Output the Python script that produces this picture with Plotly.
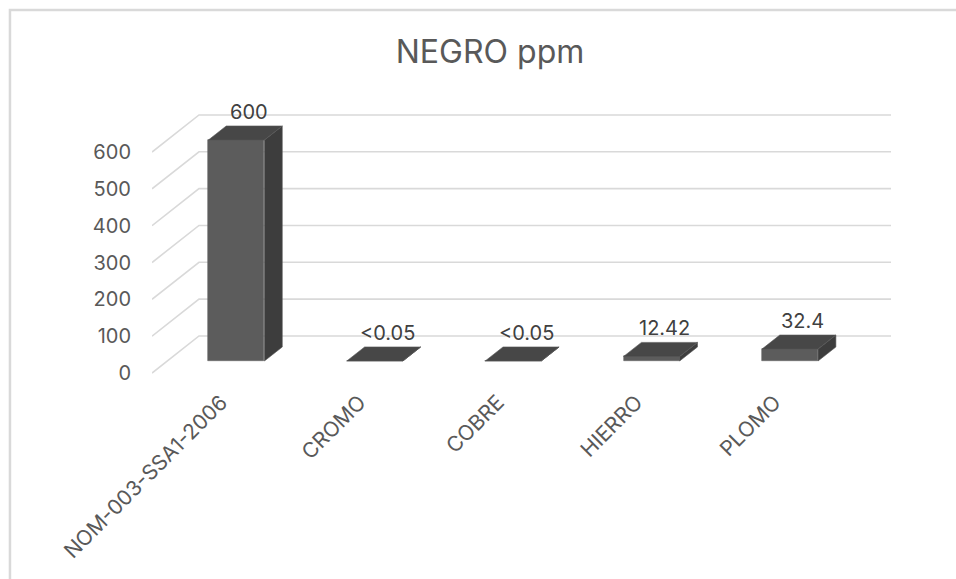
import plotly.graph_objects as go

# ---- data ----
categories = ["NOM-003-SSA1-2006", "CROMO", "COBRE", "HIERRO", "PLOMO"]
values = [600, 0.05, 0.05, 12.42, 32.4]
value_labels = ["600", "<0.05", "<0.05", "12.42", "32.4"]
y_ticks = [0, 100, 200, 300, 400, 500, 600]

# ---- 3D look: oblique projection of depth onto the 2D axes ----
DX = 0.3396     # x-axis units shifted per full floor depth
DY = 100.5      # y-axis units shifted per full floor depth
D_FRONT, D_BACK = 0.324, 0.703   # depth span of each column
BAR_W = 0.405                    # column width in category units
N = len(categories)

FRONT_COL = "#5c5c5c"
TOP_COL = "#474747"
SIDE_COL = "#3d3d3d"
GRID_COL = "#d9d9d9"
FONT = "Inter"


def proj(x, v, d):
    return x + DX * d, v + DY * d


fig = go.Figure()

# walls: side-wall diagonals and back-wall horizontals at each tick (behind the columns)
for t in y_ticks:
    x0, y0 = proj(0, t, 0)
    x1, y1 = proj(0, t, 1)
    x2, y2 = proj(N, t, 1)
    fig.add_shape(type="path", xref="x", yref="y", layer="below",
                  path=f"M {x0},{y0} L {x1},{y1} L {x2},{y2}",
                  line=dict(color=GRID_COL, width=1.6))

# front faces of the columns
centers = [i + 0.5 for i in range(N)]
fig.add_trace(go.Bar(
    x=[c + DX * D_FRONT for c in centers],
    y=values,
    base=[DY * D_FRONT] * N,
    width=BAR_W,
    marker=dict(color=FRONT_COL, line=dict(color="#666666", width=0.6)),
    showlegend=False, hoverinfo="skip",
))

# top and right-side faces
for c, v in zip(centers, values):
    l, r = c - BAR_W / 2, c + BAR_W / 2
    top = [proj(l, v, D_FRONT), proj(r, v, D_FRONT), proj(r, v, D_BACK), proj(l, v, D_BACK)]
    side = [proj(r, 0, D_FRONT), proj(r, v, D_FRONT), proj(r, v, D_BACK), proj(r, 0, D_BACK)]
    for poly, col in ((side, SIDE_COL), (top, TOP_COL)):
        xs = [p[0] for p in poly] + [poly[0][0]]
        ys = [p[1] for p in poly] + [poly[0][1]]
        fig.add_trace(go.Scatter(x=xs, y=ys, mode="lines", fill="toself",
                                 fillcolor=col, line=dict(color="#555555", width=0.6),
                                 hoverinfo="skip", showlegend=False))

# value labels above each column
mid = (D_FRONT + D_BACK) / 2
for c, v, txt in zip(centers, values, value_labels):
    lx, ly = proj(c, v, mid)
    fig.add_annotation(x=lx, y=ly, text=txt, showarrow=False,
                       xshift=4, yshift=21, yanchor="middle",
                       font=dict(family=FONT, size=20, color="#404040"))

# chart border (top and left edges)
fig.add_shape(type="path", xref="paper", yref="paper",
              path="M -0.1922,-1 L -0.1922,1.3158 L 1.2,1.3158",
              line=dict(color="#d9d9d9", width=2.5))

fig.update_layout(
    width=956, height=579,
    margin=dict(l=152, r=65, t=100, b=194),
    paper_bgcolor="white", plot_bgcolor="white",
    title=dict(text="NEGRO ppm", x=490 / 956, xanchor="center",
               y=1 - 52 / 579, yanchor="middle", xref="container", yref="container",
               font=dict(family=FONT, size=32, color="#595959")),
    bargap=0,
    xaxis=dict(range=[0, 5.3396], tickvals=centers, ticktext=categories,
               tickangle=-45, showgrid=False, zeroline=False, showline=False,
               ticks="", tickfont=dict(family=FONT, size=21, color="#595959")),
    yaxis=dict(range=[-32.58, 741.2], tickvals=y_ticks, showgrid=False,
               zeroline=False, showline=False, ticks="", ticklabelstandoff=20,
               tickfont=dict(family=FONT, size=20, color="#595959")),
)

fig.write_html("out.html")
